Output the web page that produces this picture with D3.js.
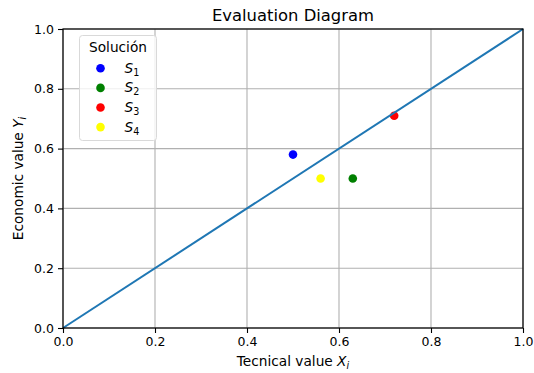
<!DOCTYPE html>
<html>
<head>
<meta charset="utf-8">
<script src="https://cdn.jsdelivr.net/npm/d3@7"></script>
<style>
  body { margin: 0; background: #fff; }
  svg { font-family: "DejaVu Sans", sans-serif; }
</style>
</head>
<body>
<svg id="chart" width="534" height="373"></svg>
<script>
const solutions = ["1", "2", "3", "4"];
const tecnical = [0.5, 0.63, 0.72, 0.56];
const economic = [0.58, 0.5, 0.71, 0.5];
const colors = ["#0000ff", "#008000", "#ff0000", "#ffff00"];
const diagonal = [[0, 0], [1, 1]];
const ticks = [0, 0.2, 0.4, 0.6, 0.8, 1.0];

const margin = { left: 63, right: 11, top: 29, bottom: 45 };
const width = 534, height = 373;

const svg = d3.select("#chart");
const x = d3.scaleLinear().domain([0, 1]).range([margin.left, width - margin.right]);
const y = d3.scaleLinear().domain([0, 1]).range([height - margin.bottom, margin.top]);

// grid
svg.append("g")
  .selectAll("line")
  .data(ticks)
  .join("line")
  .attr("x1", (d) => x(d)).attr("x2", (d) => x(d))
  .attr("y1", y(0)).attr("y2", y(1))
  .attr("stroke", "#b0b0b0").attr("stroke-width", 1.1);
svg.append("g")
  .selectAll("line")
  .data(ticks)
  .join("line")
  .attr("y1", (d) => y(d)).attr("y2", (d) => y(d))
  .attr("x1", x(0)).attr("x2", x(1))
  .attr("stroke", "#b0b0b0").attr("stroke-width", 1.1);

// points
svg.append("g")
  .selectAll("circle")
  .data(solutions)
  .join("circle")
  .attr("cx", (_, i) => x(tecnical[i]))
  .attr("cy", (_, i) => y(economic[i]))
  .attr("r", 4.3)
  .attr("fill", (_, i) => colors[i]);

// diagonal
svg.append("path")
  .attr("d", d3.line().x((d) => x(d[0])).y((d) => y(d[1]))(diagonal))
  .attr("fill", "none")
  .attr("stroke", "#1f77b4")
  .attr("stroke-width", 2);

// axes
const fmt = d3.format(".1f");
const xAxis = svg.append("g")
  .attr("transform", `translate(0,${y(0)})`)
  .call(d3.axisBottom(x).tickValues(ticks).tickFormat(fmt).tickSize(5).tickPadding(4));
const yAxis = svg.append("g")
  .attr("transform", `translate(${x(0)},0)`)
  .call(d3.axisLeft(y).tickValues(ticks).tickFormat(fmt).tickSize(5).tickPadding(4));
[xAxis, yAxis].forEach((g) => {
  g.select(".domain").remove();
  g.selectAll("text").attr("font-size", 12.5).attr("fill", "#000")
    .attr("font-family", "DejaVu Sans, sans-serif");
  g.selectAll("line").attr("stroke", "#000").attr("stroke-width", 1.1);
});

// frame
svg.append("rect")
  .attr("x", x(0)).attr("y", y(1))
  .attr("width", x(1) - x(0)).attr("height", y(0) - y(1))
  .attr("fill", "none").attr("stroke", "#000").attr("stroke-width", 1.2);

// title
svg.append("text")
  .attr("x", (x(0) + x(1)) / 2).attr("y", 21)
  .attr("text-anchor", "middle").attr("font-size", 16.4)
  .text("Evaluation Diagram");

// axis labels
const xl = svg.append("text")
  .attr("x", (x(0) + x(1)) / 2).attr("y", 366)
  .attr("text-anchor", "middle").attr("font-size", 13.7);
xl.append("tspan").text("Tecnical value ");
xl.append("tspan").attr("font-style", "italic").text("X");
xl.append("tspan").attr("font-style", "italic").attr("font-size", 9.6).attr("dy", 3).text("i");

const yl = svg.append("text")
  .attr("transform", `translate(23,${(y(0) + y(1)) / 2}) rotate(-90)`)
  .attr("text-anchor", "middle").attr("font-size", 13.7);
yl.append("tspan").text("Economic value ");
yl.append("tspan").attr("font-style", "italic").text("Y");
yl.append("tspan").attr("font-style", "italic").attr("font-size", 9.6).attr("dy", 3).text("i");

// legend
const legend = svg.append("g").attr("transform", "translate(79.5,35.5)");
legend.append("rect")
  .attr("width", 77).attr("height", 105).attr("rx", 3)
  .attr("fill", "#fff").attr("fill-opacity", 0.8)
  .attr("stroke", "#d9d9d9");
legend.append("text")
  .attr("x", 38.5).attr("y", 16.5).attr("text-anchor", "middle")
  .attr("font-size", 13.7).text("Solución");
const rows = legend.selectAll("g.row")
  .data(solutions)
  .join("g")
  .attr("class", "row")
  .attr("transform", (_, i) => `translate(0,${32.8 + i * 19.6})`);
rows.append("circle").attr("cx", 21).attr("cy", 0).attr("r", 4.3)
  .attr("fill", (_, i) => colors[i]);
const lt = rows.append("text").attr("x", 45).attr("y", 4.5).attr("font-size", 13.7);
lt.append("tspan").attr("font-style", "italic").text("S");
lt.append("tspan").attr("font-size", 9.6).attr("dy", 3).text((d) => d);
</script>
</body>
</html>
